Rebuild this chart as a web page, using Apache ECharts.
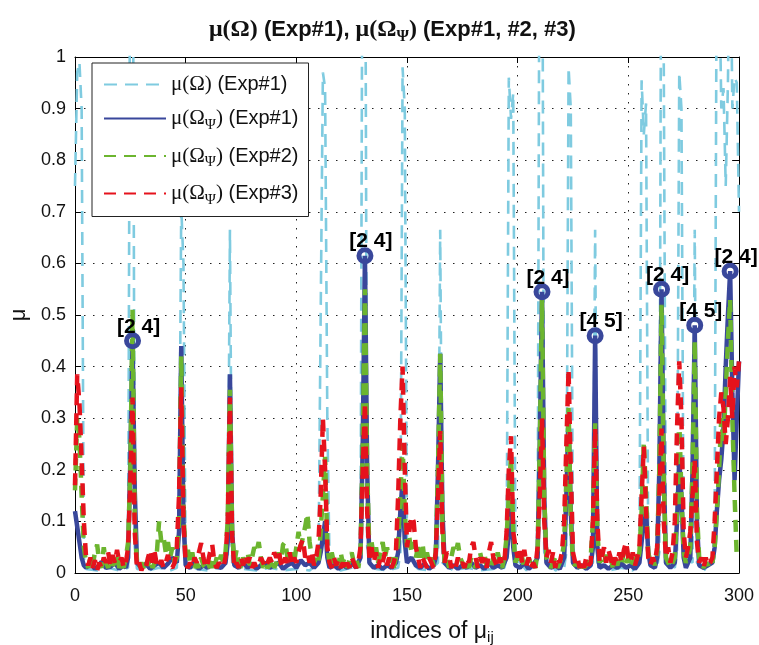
<!DOCTYPE html>
<html>
<head>
<meta charset="utf-8">
<script src="https://cdn.jsdelivr.net/npm/echarts@6/dist/echarts.min.js"></script>
<style>html,body{margin:0;padding:0;background:#fff}#c{width:759px;height:645px}</style>
</head>
<body>
<div id="c"></div>
<script>
// ---- data (index, value) ----
const omegaExp1 = [[0,0.75],[1,0.97],[2,0.99],[3,0.9],[4,0.03],[5,0.008],[10,0.005],[15,0.01],[20,0.005],[24,0.01],[25,1.4],[26,1.5],[27,0.05],[28,0.008],[33,0.005],[38,0.01],[43,0.005],[46,0.01],[47,0.1],[48,0.71],[49,0.6],[50,0.02],[55,0.008],[60,0.005],[65,0.01],[69,0.02],[70,0.665],[71,0.02],[76,0.008],[82,0.005],[88,0.01],[94,0.005],[100,0.008],[106,0.005],[110,0.02],[111,0.5],[112,0.97],[113,0.94],[114,0.3],[115,0.02],[120,0.005],[125,0.01],[129,0.03],[130,1.5],[131,1.5],[132,0.05],[136,0.008],[141,0.005],[146,0.01],[147,0.04],[148,0.98],[149,0.9],[150,0.03],[155,0.008],[160,0.005],[164,0.02],[165,0.665],[166,0.02],[171,0.005],[177,0.01],[183,0.005],[189,0.008],[194,0.01],[195,0.03],[196,0.96],[197,0.88],[198,0.93],[199,0.03],[204,0.005],[209,0.03],[210,1.5],[211,1.5],[212,0.04],[217,0.005],[221,0.01],[222,0.04],[223,0.98],[224,0.9],[225,0.03],[230,0.005],[234,0.02],[235,0.665],[236,0.02],[241,0.005],[247,0.01],[252,0.005],[255,0.03],[256,0.955],[257,0.85],[258,0.91],[259,0.03],[263,0.01],[264,0.04],[265,1.5],[266,1.0],[267,0.03],[271,0.01],[272,0.04],[273,0.97],[274,0.9],[275,0.03],[279,0.02],[280,0.665],[281,0.02],[285,0.005],[288,0.02],[289,0.1],[290,1.3],[291,1.2],[292,0.9],[293,0.94],[294,0.75],[295,0.95],[296,1.3],[297,0.9],[298,0.96],[299,0.95],[300,0.7]];

const psiExp1 = [[0,0.12],[1,0.09],[2,0.06],[3,0.03],[4,0.015],[5,0.01],[7,0.02],[9,0.008],[11,0.015],[12,0.022],[14,0.01],[16,0.012],[18,0.02],[20,0.008],[22,0.015],[23,0.01],[24,0.03],[25,0.22],[26,0.45],[27,0.16],[28,0.02],[30,0.01],[32,0.018],[34,0.008],[36,0.015],[38,0.02],[40,0.01],[42,0.018],[44,0.03],[45,0.025],[46,0.02],[47,0.08],[48,0.44],[49,0.1],[50,0.015],[52,0.01],[54,0.02],[56,0.008],[58,0.015],[60,0.01],[62,0.02],[64,0.012],[66,0.01],[68,0.02],[69,0.06],[70,0.385],[71,0.08],[72,0.015],[74,0.01],[76,0.02],[78,0.01],[80,0.018],[82,0.008],[84,0.015],[86,0.02],[88,0.01],[90,0.015],[92,0.02],[94,0.008],[96,0.015],[98,0.02],[100,0.01],[102,0.025],[104,0.015],[106,0.02],[108,0.01],[110,0.02],[111,0.04],[112,0.07],[113,0.1],[114,0.03],[115,0.01],[117,0.015],[119,0.008],[121,0.015],[123,0.01],[125,0.02],[127,0.01],[129,0.03],[130,0.25],[131,0.615],[132,0.2],[133,0.02],[135,0.01],[137,0.015],[139,0.008],[141,0.015],[143,0.01],[145,0.02],[146,0.04],[147,0.12],[148,0.18],[149,0.06],[150,0.02],[152,0.03],[154,0.015],[156,0.01],[158,0.018],[160,0.008],[162,0.015],[163,0.03],[164,0.2],[165,0.425],[166,0.12],[167,0.02],[169,0.01],[171,0.015],[173,0.008],[175,0.015],[177,0.01],[179,0.02],[181,0.01],[183,0.015],[185,0.008],[187,0.02],[189,0.01],[191,0.015],[193,0.01],[195,0.03],[196,0.08],[197,0.13],[198,0.05],[199,0.015],[201,0.01],[203,0.02],[205,0.008],[207,0.015],[209,0.03],[210,0.25],[211,0.545],[212,0.15],[213,0.02],[215,0.01],[217,0.015],[219,0.008],[221,0.03],[222,0.15],[223,0.3],[224,0.12],[225,0.02],[227,0.01],[229,0.015],[231,0.008],[233,0.015],[234,0.05],[235,0.46],[236,0.05],[237,0.01],[239,0.015],[241,0.008],[243,0.015],[245,0.01],[247,0.018],[249,0.01],[251,0.015],[253,0.008],[255,0.02],[256,0.06],[257,0.1],[258,0.12],[259,0.04],[260,0.015],[262,0.01],[263,0.03],[264,0.2],[265,0.55],[266,0.2],[267,0.02],[269,0.01],[271,0.02],[272,0.1],[273,0.22],[274,0.15],[275,0.03],[276,0.01],[278,0.03],[279,0.2],[280,0.48],[281,0.1],[282,0.015],[284,0.01],[286,0.015],[288,0.02],[289,0.05],[290,0.12],[291,0.18],[292,0.22],[293,0.28],[294,0.4],[295,0.5],[296,0.585],[297,0.35],[298,0.18],[299,0.3],[300,0.41]];

const psiExp2 = [[0,0.16],[1,0.3],[2,0.26],[3,0.15],[4,0.05],[5,0.02],[6,0.01],[7,0.03],[8,0.015],[9,0.04],[10,0.055],[11,0.02],[12,0.01],[13,0.05],[14,0.02],[15,0.01],[16,0.03],[17,0.015],[18,0.02],[19,0.035],[20,0.01],[21,0.02],[22,0.01],[23,0.03],[24,0.06],[25,0.2],[26,0.51],[27,0.1],[28,0.02],[29,0.01],[30,0.02],[31,0.01],[32,0.025],[33,0.015],[34,0.03],[35,0.01],[36,0.02],[37,0.04],[38,0.1],[39,0.06],[40,0.07],[41,0.04],[42,0.06],[43,0.03],[44,0.05],[45,0.02],[46,0.03],[47,0.1],[48,0.42],[49,0.12],[50,0.03],[51,0.045],[52,0.02],[53,0.04],[54,0.01],[55,0.02],[56,0.01],[57,0.03],[58,0.015],[59,0.01],[60,0.02],[61,0.01],[62,0.025],[63,0.01],[64,0.03],[65,0.02],[66,0.035],[67,0.02],[68,0.04],[69,0.1],[70,0.355],[71,0.08],[72,0.02],[73,0.045],[74,0.02],[75,0.01],[76,0.03],[77,0.02],[78,0.04],[79,0.015],[80,0.03],[81,0.05],[82,0.04],[83,0.06],[84,0.03],[85,0.01],[86,0.02],[87,0.01],[88,0.015],[89,0.03],[90,0.01],[91,0.02],[92,0.04],[93,0.02],[94,0.055],[95,0.06],[96,0.03],[97,0.02],[98,0.04],[99,0.02],[100,0.05],[101,0.08],[102,0.05],[103,0.07],[104,0.09],[105,0.115],[106,0.06],[107,0.03],[108,0.02],[109,0.03],[110,0.02],[111,0.08],[112,0.15],[113,0.225],[114,0.05],[115,0.02],[116,0.04],[117,0.02],[118,0.03],[119,0.015],[120,0.04],[121,0.02],[122,0.03],[123,0.01],[124,0.025],[125,0.04],[126,0.02],[127,0.03],[128,0.01],[129,0.04],[130,0.25],[131,0.55],[132,0.2],[133,0.04],[134,0.06],[135,0.03],[136,0.05],[137,0.02],[138,0.04],[139,0.06],[140,0.03],[141,0.05],[142,0.02],[143,0.03],[144,0.01],[145,0.03],[146,0.06],[147,0.15],[148,0.25],[149,0.12],[150,0.05],[151,0.07],[152,0.04],[153,0.06],[154,0.03],[155,0.05],[156,0.03],[157,0.058],[158,0.02],[159,0.04],[160,0.02],[161,0.03],[162,0.015],[163,0.04],[164,0.2],[165,0.425],[166,0.1],[167,0.02],[168,0.03],[169,0.01],[170,0.03],[171,0.05],[172,0.04],[173,0.058],[174,0.03],[175,0.02],[176,0.01],[177,0.02],[178,0.01],[179,0.03],[180,0.02],[181,0.01],[182,0.03],[183,0.04],[184,0.02],[185,0.035],[186,0.015],[187,0.02],[188,0.01],[189,0.03],[190,0.02],[191,0.04],[192,0.02],[193,0.01],[194,0.03],[195,0.07],[196,0.15],[197,0.23],[198,0.08],[199,0.02],[200,0.035],[201,0.02],[202,0.03],[203,0.01],[204,0.02],[205,0.03],[206,0.015],[207,0.02],[208,0.01],[209,0.04],[210,0.25],[211,0.53],[212,0.15],[213,0.03],[214,0.02],[215,0.01],[216,0.02],[217,0.03],[218,0.01],[219,0.02],[220,0.03],[221,0.06],[222,0.18],[223,0.32],[224,0.1],[225,0.02],[226,0.015],[227,0.02],[228,0.01],[229,0.02],[230,0.01],[231,0.015],[232,0.02],[233,0.03],[234,0.1],[235,0.29],[236,0.08],[237,0.02],[238,0.03],[239,0.02],[240,0.035],[241,0.02],[242,0.03],[243,0.01],[244,0.025],[245,0.015],[246,0.03],[247,0.02],[248,0.04],[249,0.02],[250,0.03],[251,0.01],[252,0.02],[253,0.03],[254,0.02],[255,0.04],[256,0.12],[257,0.255],[258,0.15],[259,0.04],[260,0.02],[261,0.03],[262,0.015],[263,0.04],[264,0.2],[265,0.52],[266,0.18],[267,0.03],[268,0.02],[269,0.01],[270,0.02],[271,0.03],[272,0.12],[273,0.3],[274,0.15],[275,0.04],[276,0.02],[277,0.03],[278,0.05],[279,0.2],[280,0.45],[281,0.12],[282,0.03],[283,0.02],[284,0.01],[285,0.02],[286,0.015],[287,0.03],[288,0.02],[289,0.05],[290,0.12],[291,0.2],[292,0.3],[293,0.25],[294,0.35],[295,0.45],[296,0.53],[297,0.3],[298,0.15],[299,0.03],[300,0.03]];

const psiExp3 = [[0,0.17],[1,0.385],[2,0.33],[3,0.22],[4,0.1],[5,0.03],[6,0.015],[7,0.03],[8,0.01],[9,0.025],[10,0.005],[11,0.02],[12,0.01],[13,0.03],[14,0.02],[15,0.04],[16,0.015],[17,0.035],[18,0.02],[19,0.045],[20,0.02],[21,0.03],[22,0.01],[23,0.02],[24,0.05],[25,0.18],[26,0.34],[27,0.08],[28,0.01],[29,0.02],[30,0.005],[31,0.015],[32,0.01],[33,0.03],[34,0.045],[35,0.02],[36,0.04],[37,0.015],[38,0.01],[39,0.025],[40,0.01],[41,0.02],[42,0.035],[43,0.015],[44,0.01],[45,0.02],[46,0.05],[47,0.15],[48,0.36],[49,0.1],[50,0.02],[51,0.01],[52,0.02],[53,0.01],[54,0.03],[55,0.02],[56,0.04],[57,0.058],[58,0.03],[59,0.01],[60,0.02],[61,0.04],[62,0.055],[63,0.02],[64,0.01],[65,0.02],[66,0.015],[67,0.01],[68,0.03],[69,0.1],[70,0.34],[71,0.07],[72,0.01],[73,0.02],[74,0.01],[75,0.03],[76,0.015],[77,0.035],[78,0.02],[79,0.03],[80,0.01],[81,0.02],[82,0.01],[83,0.015],[84,0.03],[85,0.02],[86,0.01],[87,0.02],[88,0.03],[89,0.02],[90,0.04],[91,0.03],[92,0.045],[93,0.02],[94,0.01],[95,0.03],[96,0.02],[97,0.04],[98,0.015],[99,0.03],[100,0.02],[101,0.04],[102,0.055],[103,0.065],[104,0.03],[105,0.04],[106,0.02],[107,0.04],[108,0.015],[109,0.03],[110,0.06],[111,0.15],[112,0.3],[113,0.2],[114,0.05],[115,0.02],[116,0.01],[117,0.03],[118,0.015],[119,0.025],[120,0.01],[121,0.02],[122,0.005],[123,0.02],[124,0.01],[125,0.03],[126,0.02],[127,0.01],[128,0.02],[129,0.05],[130,0.2],[131,0.33],[132,0.12],[133,0.03],[134,0.05],[135,0.02],[136,0.04],[137,0.01],[138,0.03],[139,0.02],[140,0.04],[141,0.015],[142,0.03],[143,0.01],[144,0.02],[145,0.04],[146,0.15],[147,0.3],[148,0.4],[149,0.2],[150,0.05],[151,0.08],[152,0.11],[153,0.1],[154,0.05],[155,0.03],[156,0.01],[157,0.03],[158,0.02],[159,0.01],[160,0.03],[161,0.02],[162,0.01],[163,0.04],[164,0.15],[165,0.275],[166,0.08],[167,0.02],[168,0.04],[169,0.035],[170,0.01],[171,0.02],[172,0.01],[173,0.03],[174,0.015],[175,0.02],[176,0.01],[177,0.03],[178,0.02],[179,0.05],[180,0.06],[181,0.03],[182,0.01],[183,0.03],[184,0.02],[185,0.03],[186,0.01],[187,0.04],[188,0.06],[189,0.03],[190,0.02],[191,0.01],[192,0.03],[193,0.015],[194,0.02],[195,0.08],[196,0.2],[197,0.265],[198,0.08],[199,0.05],[200,0.03],[201,0.05],[202,0.02],[203,0.045],[204,0.015],[205,0.03],[206,0.01],[207,0.02],[208,0.01],[209,0.05],[210,0.15],[211,0.3],[212,0.1],[213,0.03],[214,0.045],[215,0.02],[216,0.04],[217,0.01],[218,0.03],[219,0.02],[220,0.04],[221,0.1],[222,0.25],[223,0.395],[224,0.2],[225,0.04],[226,0.02],[227,0.03],[228,0.01],[229,0.025],[230,0.01],[231,0.03],[232,0.015],[233,0.02],[234,0.1],[235,0.28],[236,0.1],[237,0.02],[238,0.03],[239,0.05],[240,0.02],[241,0.045],[242,0.03],[243,0.01],[244,0.03],[245,0.02],[246,0.04],[247,0.02],[248,0.045],[249,0.06],[250,0.03],[251,0.02],[252,0.04],[253,0.015],[254,0.03],[255,0.05],[256,0.15],[257,0.245],[258,0.12],[259,0.03],[260,0.015],[261,0.03],[262,0.02],[263,0.05],[264,0.15],[265,0.28],[266,0.1],[267,0.03],[268,0.05],[269,0.02],[270,0.04],[271,0.1],[272,0.28],[273,0.41],[274,0.3],[275,0.08],[276,0.03],[277,0.05],[278,0.08],[279,0.15],[280,0.22],[281,0.06],[282,0.02],[283,0.03],[284,0.01],[285,0.03],[286,0.015],[287,0.02],[288,0.03],[289,0.1],[290,0.2],[291,0.3],[292,0.35],[293,0.32],[294,0.25],[295,0.3],[296,0.38],[297,0.3],[298,0.4],[299,0.36],[300,0.41]];

const peakIdx = [26, 131, 211, 235, 265, 280, 296];
const peakVal = [0.45, 0.615, 0.545, 0.46, 0.55, 0.48, 0.585];
const peakText = ['[2 4]', '[2 4]', '[2 4]', '[4 5]', '[2 4]', '[4 5]', '[2 4]'];

const seriesNames = ['muOmegaExp1', 'muPsiExp1', 'muPsiExp2', 'muPsiExp3'];
const legendText = {
  muOmegaExp1: '{g|μ(Ω)}{t| (Exp#1)}',
  muPsiExp1: '{g|μ(Ω}{s|Ψ}{g|)}{t| (Exp#1)}',
  muPsiExp2: '{g|μ(Ω}{s|Ψ}{g|)}{t| (Exp#2)}',
  muPsiExp3: '{g|μ(Ω}{s|Ψ}{g|)}{t| (Exp#3)}'
};
const xTicks = {min: 0, max: 300, interval: 50};
const yTicks = {min: 0, max: 1, interval: 0.1};

const C_CYAN = '#7fcbe0', C_BLUE = '#39479b', C_GREEN = '#6cb52f', C_RED = '#e5121c';
const SANS = 'Liberation Sans', SERIF = 'Liberation Serif';

const chart = echarts.init(document.getElementById('c'), null, {renderer: 'canvas'});
const dotted = {type: [1.5, 7.5], color: '#222', width: 1};
const option = {
  animation: false,
  backgroundColor: '#fff',
  title: {
    text: '{g|μ(Ω)}{b| (Exp#1), }{g|μ(Ω}{s|Ψ}{g|)}{b| (Exp#1, #2, #3)}',
    left: 209, top: 15, padding: 0,
    textStyle: {
      rich: {
        g: {fontFamily: SERIF, fontSize: 24, lineHeight: 30, color: '#111'},
        b: {fontFamily: SANS, fontWeight: 'bold', fontSize: 22, lineHeight: 30, color: '#111'},
        s: {fontFamily: SERIF, fontSize: 16, lineHeight: 30, padding: [14, 0, 0, 0], color: '#111'}
      }
    }
  },
  legend: {
    data: seriesNames,
    orient: 'vertical', left: 92, top: 63,
    padding: [11, 10, 9, 11],
    itemWidth: 62, itemHeight: 14, itemGap: 9.5,
    backgroundColor: '#fff', borderColor: '#222', borderWidth: 1, borderRadius: 0,
    formatter: n => legendText[n],
    textStyle: {
      rich: {
        g: {fontFamily: SERIF, fontSize: 21, lineHeight: 28, color: '#111'},
        t: {fontFamily: SANS, fontSize: 20, lineHeight: 28, color: '#111'},
        s: {fontFamily: SERIF, fontSize: 15, lineHeight: 28, padding: [13, 0, 0, 0], color: '#111'}
      }
    }
  },
  grid: {left: 75, right: 20, top: 57, bottom: 72, containLabel: false, outerBoundsMode: 'none'},
  xAxis: [{
    type: 'value', min: xTicks.min, max: xTicks.max, interval: xTicks.interval,
    position: 'bottom',
    axisLine: {show: true, onZero: false, lineStyle: {color: '#000', width: 1}},
    axisTick: {show: true, inside: true, length: 6, lineStyle: {color: '#000'}},
    axisLabel: {fontFamily: SANS, fontSize: 18, color: '#111', margin: 14},
    splitLine: {show: true, lineStyle: dotted},
    name: '{a|indices of μ}{s|ij}', nameLocation: 'middle', nameGap: 45,
    nameTextStyle: {
      padding: [0, 0, 0, 50],
      rich: {
        a: {fontFamily: SANS, fontSize: 23, lineHeight: 28, color: '#111'},
        s: {fontFamily: SANS, fontSize: 15, lineHeight: 28, padding: [12, 0, 0, 0], color: '#111'}
      }
    }
  }, {
    type: 'value', min: xTicks.min, max: xTicks.max, interval: xTicks.interval,
    position: 'top',
    axisLine: {show: true, onZero: false, lineStyle: {color: '#000', width: 1}},
    axisTick: {show: true, inside: true, length: 6, lineStyle: {color: '#000'}},
    axisLabel: {show: false}, splitLine: {show: false}
  }],
  yAxis: [{
    type: 'value', min: yTicks.min, max: yTicks.max, interval: yTicks.interval,
    position: 'left',
    axisLine: {show: true, onZero: false, lineStyle: {color: '#000', width: 1}},
    axisTick: {show: true, inside: true, length: 6, lineStyle: {color: '#000'}},
    axisLabel: {fontFamily: SANS, fontSize: 18, color: '#111', margin: 9},
    splitLine: {show: true, lineStyle: dotted},
    name: 'μ', nameLocation: 'middle', nameGap: 41, nameRotate: 90,
    nameTextStyle: {fontFamily: SANS, fontSize: 22, color: '#111'}
  }, {
    type: 'value', min: yTicks.min, max: yTicks.max, interval: yTicks.interval,
    position: 'right',
    axisLine: {show: true, onZero: false, lineStyle: {color: '#000', width: 1}},
    axisTick: {show: true, inside: true, length: 6, lineStyle: {color: '#000'}},
    axisLabel: {show: false}, splitLine: {show: false}
  }],
  series: [
    {name: 'muOmegaExp1', type: 'line', data: omegaExp1, symbol: 'none', clip: true, z: 2,
     lineStyle: {color: C_CYAN, width: 2.6, type: [13, 8]}, itemStyle: {color: C_CYAN, opacity: 0}},
    {name: 'muPsiExp1', type: 'line', data: psiExp1, symbol: 'none', clip: true, z: 3,
     lineStyle: {color: C_BLUE, width: 4.5, type: 'solid'}, itemStyle: {color: C_BLUE, opacity: 0}},
    {name: 'muPsiExp2', type: 'line', data: psiExp2, symbol: 'none', clip: true, z: 4,
     lineStyle: {color: C_GREEN, width: 4.5, type: [12, 8]}, itemStyle: {color: C_GREEN, opacity: 0}},
    {name: 'muPsiExp3', type: 'line', data: psiExp3, symbol: 'none', clip: true, z: 5,
     lineStyle: {color: C_RED, width: 4.5, type: [12, 8]}, itemStyle: {color: C_RED, opacity: 0}},
    {name: 'peaks', type: 'scatter', z: 10,
     data: peakIdx.map((x, i) => ({value: [x, peakVal[i]], label: {formatter: peakText[i]}})),
     symbol: 'circle', symbolSize: 12,
     itemStyle: {color: 'rgba(255,255,255,0)', borderColor: C_BLUE, borderWidth: 5, opacity: 1},
     label: {show: true, position: 'inside', offset: [6, -14], fontFamily: SANS, fontWeight: 'bold',
             fontSize: 21, color: '#000', opacity: 1}
    }
  ]
};
chart.setOption(option);
</script>
</body>
</html>
